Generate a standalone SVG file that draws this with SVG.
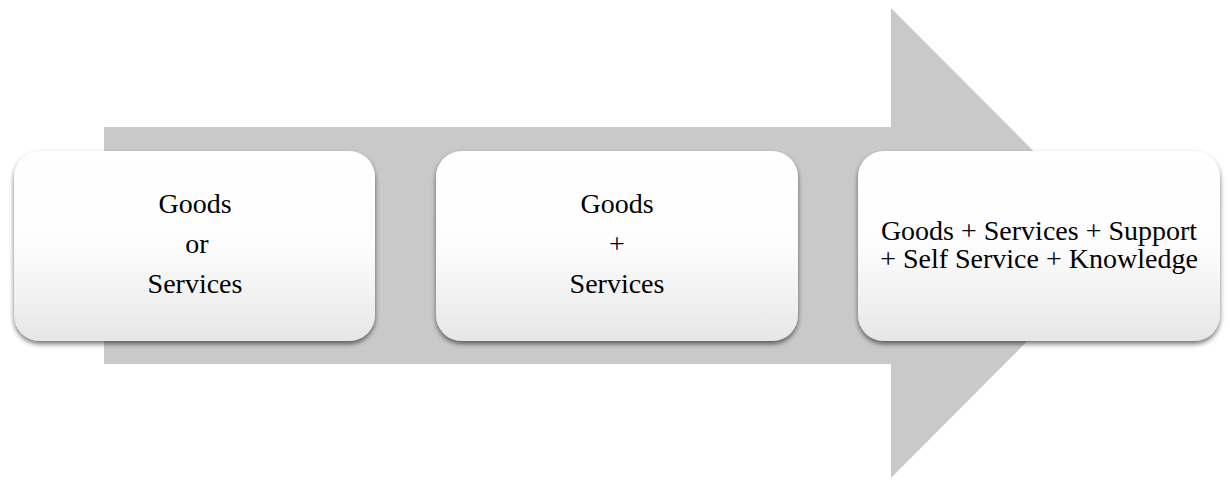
<svg xmlns="http://www.w3.org/2000/svg" width="1230" height="481" viewBox="0 0 1230 481">
<defs>
<linearGradient id="boxfill" x1="0" y1="0" x2="0" y2="1">
<stop offset="0" stop-color="#ffffff"/>
<stop offset="0.5" stop-color="#fdfdfd"/>
<stop offset="1" stop-color="#e6e6e6"/>
</linearGradient>
<filter id="shadow" x="-10%" y="-10%" width="120%" height="130%">
<feGaussianBlur in="SourceAlpha" stdDeviation="2.5"/>
<feOffset dx="0" dy="3" result="b"/>
<feComponentTransfer><feFuncA type="linear" slope="0.55"/></feComponentTransfer>
<feMerge><feMergeNode/><feMergeNode in="SourceGraphic"/></feMerge>
</filter>
</defs>
<style>
.box{fill:url(#boxfill);filter:url(#shadow);}
.lbl{font-family:"Liberation Serif","Times New Roman",serif;font-size:28px;fill:#000;text-anchor:middle;}
</style>
<g id="arrow">
<polygon points="104,127 891,127 891,8 1125,243 891,478 891,364 104,364" fill="#c9c9c9"/>
</g>
<g id="connectors"></g>
<g id="node1">
<rect class="box" x="14" y="151" width="361" height="190" rx="26" ry="26"/>
<text class="lbl" x="195" y="213">Goods</text>
<text class="lbl" x="197" y="253">or</text>
<text class="lbl" x="195" y="293">Services</text>
</g>
<g id="node2">
<rect class="box" x="436" y="151" width="362" height="190" rx="26" ry="26"/>
<text class="lbl" x="617" y="213">Goods</text>
<text class="lbl" x="617" y="253">+</text>
<text class="lbl" x="617" y="293">Services</text>
</g>
<g id="node3">
<rect class="box" x="858" y="151" width="362" height="190" rx="26" ry="26"/>
<text class="lbl" x="1039" y="240"><tspan x="1039" y="240">Goods + Services + Support</tspan><tspan x="1039" y="268">+ Self Service + Knowledge</tspan></text>
</g>
</svg>
